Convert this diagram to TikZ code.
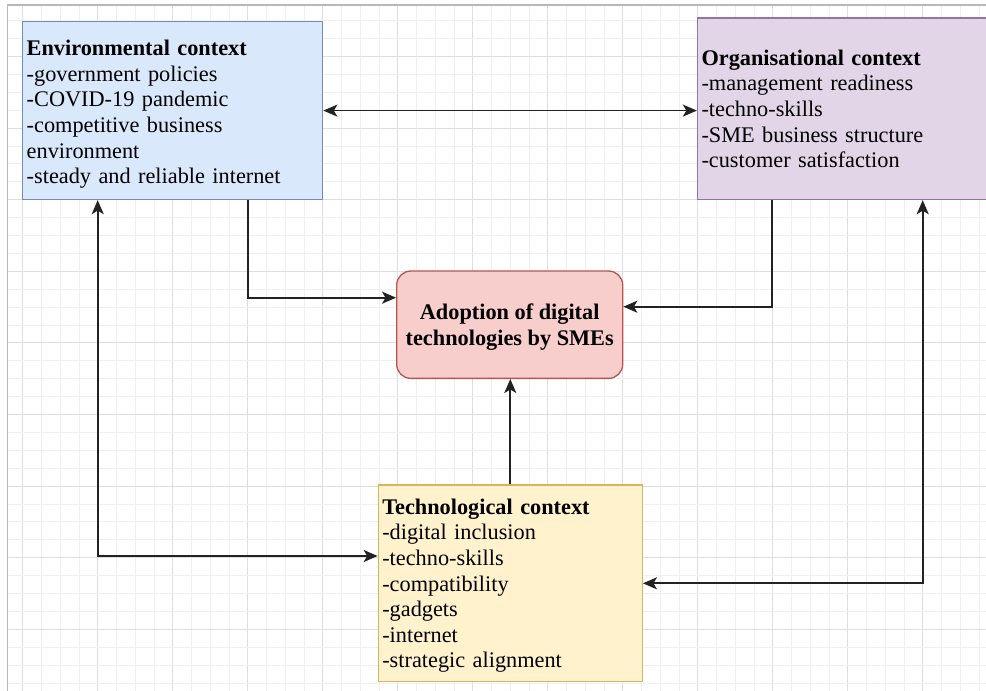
\documentclass[tikz,border=0pt]{standalone}
\usepackage{fontspec}
\setmainfont{Liberation Serif}
\usetikzlibrary{arrows.meta}
\definecolor{envfill}{HTML}{DAE8FC}\definecolor{envdraw}{HTML}{6C8EBF}
\definecolor{orgfill}{HTML}{E1D5E7}\definecolor{orgdraw}{HTML}{9673A6}
\definecolor{adfill}{HTML}{F8CECC}\definecolor{addraw}{HTML}{B85450}
\definecolor{tecfill}{HTML}{FFF2CC}\definecolor{tecdraw}{HTML}{D6B656}
\definecolor{linec}{HTML}{222222}
\begin{document}
\begin{tikzpicture}[x=1pt,y=-1pt,
  ctx/.style={draw, line width=1.3pt, align=left, inner xsep=4pt, inner ysep=0pt,
    font=\fontsize{22.3}{25.6}\selectfont},
  arr/.style={draw=linec, line width=1.7pt, -{Stealth[length=14pt,width=12pt,inset=3.5pt]}},
  arrb/.style={draw=linec, line width=1.7pt, {Stealth[length=14pt,width=12pt,inset=3.5pt]}-{Stealth[length=14pt,width=12pt,inset=3.5pt]}},
  minorgrid/.style={draw=black!6, line width=0.9pt},
  majorgrid/.style={draw=black!13, line width=0.9pt}]
\useasboundingbox (0,0) rectangle (986,691);
\fill[white] (0,0) rectangle (986,691);
% grid
\begin{scope}
\clip (7.3,5) rectangle (986,691);
\foreach \i in {0,...,52}{
  \pgfmathtruncatemacro{\m}{mod(\i,4)}
  \ifnum\m=0 \draw[majorgrid] (22.7+18.75*\i,5) -- (22.7+18.75*\i,691);
  \else \draw[minorgrid] (22.7+18.75*\i,5) -- (22.7+18.75*\i,691); \fi
}
\foreach \j in {0,...,38}{
  \pgfmathtruncatemacro{\m}{mod(\j,4)}
  \ifnum\m=2 \draw[majorgrid] (7.3,20.7+17.9*\j) -- (986,20.7+17.9*\j);
  \else \draw[minorgrid] (7.3,20.7+17.9*\j) -- (986,20.7+17.9*\j); \fi
}
\end{scope}
\draw[black!28, line width=1.5pt] (7.3,691) -- (7.3,5) -- (986,5);
% boxes
\node[ctx, fill=envfill, draw=envdraw, text width=292pt, minimum height=177.8pt] (env) at (172.7,110.6)
  {\rule{0pt}{23pt}\textbf{Environmental context}\\-government policies\\-COVID-19 pandemic\\-competitive business\\environment\\-steady and reliable internet};
\node[ctx, fill=orgfill, draw=orgdraw, text width=292pt, minimum height=181.5pt] (org) at (847.5,108.8)
  {\textbf{Organisational context}\\-management readiness\\-techno-skills\\-SME business structure\\-customer satisfaction};
\node[draw=addraw, fill=adfill, line width=1.3pt, rounded corners=14pt, align=center,
  minimum width=226pt, minimum height=107.3pt, inner sep=0pt,
  font=\fontsize{22.3}{25.6}\selectfont\bfseries] (adopt) at (509.7,324.7)
  {\rule{0pt}{21pt}Adoption of digital\\technologies by SMEs};
\node[ctx, fill=tecfill, draw=tecdraw, text width=256pt, minimum height=196.7pt] (tech) at (510.3,583.3)
  {\rule{0pt}{20.5pt}\textbf{Technological context}\\-digital inclusion\\-techno-skills\\-compatibility\\-gadgets\\-internet\\-strategic alignment};
% connector points
\coordinate (b) at (248,297.7);
\coordinate (c) at (772.3,306.7);
\coordinate (e) at (97.7,556);
\coordinate (f) at (922.7,583.3);
% connectors
\draw[arrb] (env.east) -- (env.east -| org.west);
\draw[arr] (env.south -| b) |- (adopt.west |- b);
\draw[arr] (org.south -| c) |- (adopt.east |- c);
\draw[arr] (tech.north) -- (tech.north |- adopt.south);
\draw[arrb] (env.south -| e) |- (tech.west |- e);
\draw[arrb] (org.south -| f) |- (tech.east |- f);
\end{tikzpicture}
\end{document}
